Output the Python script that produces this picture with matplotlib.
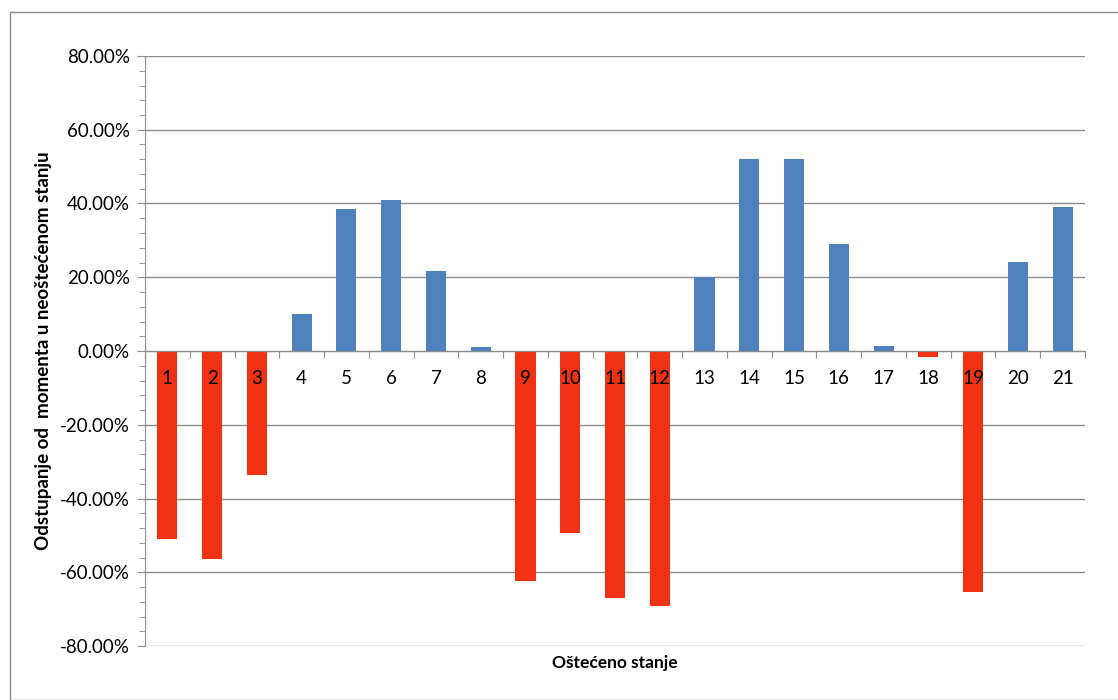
import numpy as np
import matplotlib.pyplot as plt
from matplotlib.patches import Rectangle
from matplotlib.ticker import FuncFormatter, MultipleLocator
from matplotlib.transforms import ScaledTranslation

plt.rcParams['font.family'] = ['Lato', 'DejaVu Sans']

# damaged states and deviation of moment (fraction)
states = [str(i) for i in range(1, 22)]
deviation = [-0.510, -0.564, -0.336, 0.100, 0.385, 0.410, 0.217, 0.011,
             -0.624, -0.494, -0.670, -0.692, 0.201, 0.521, 0.521, 0.290,
             0.014, -0.016, -0.654, 0.241, 0.391]

blue = '#4F81BD'
red = '#F03214'
grid_col = '#8C8C8C'

fig = plt.figure(figsize=(11.18, 7.0), dpi=100)
fig.patches.append(Rectangle((10 / 1118, 0.0), 1.2, 1 - 12 / 700,
                             transform=fig.transFigure, fill=False,
                             edgecolor='#8C8C8C', linewidth=1.0))

ax = fig.add_axes([145 / 1118, 54 / 700, 940 / 1118, 590 / 700])

x = np.arange(len(states))
colors = [blue if v >= 0 else red for v in deviation]
ax.bar(x, deviation, width=0.45, color=colors, zorder=3)

ax.set_xlim(-0.5, len(states) - 0.5)
ax.set_ylim(-0.8, 0.8)

ax.yaxis.set_major_locator(MultipleLocator(0.2))
ax.yaxis.set_minor_locator(MultipleLocator(0.04))
ax.yaxis.set_major_formatter(FuncFormatter(lambda v, p: f'{v * 100:.2f}%'))
ax.grid(axis='y', which='major', color=grid_col, linewidth=1.0, zorder=0)
ax.tick_params(axis='y', which='both', direction='out', color=grid_col,
               labelsize=13.5, labelcolor='black', pad=5)
ax.tick_params(axis='y', which='major', length=6)
ax.tick_params(axis='y', which='minor', length=4)

ax.spines['bottom'].set_position(('data', 0))
ax.spines['bottom'].set_color(grid_col)
ax.spines['bottom'].set_zorder(4)
ax.spines['left'].set_color(grid_col)
ax.spines['top'].set_visible(False)
ax.spines['right'].set_visible(False)

# category boundaries carry the tick marks; labels drawn on top of the bars
ax.set_xticks(np.arange(len(states) + 1) - 0.5)
ax.set_xticklabels([])
ax.tick_params(axis='x', length=5, direction='out', color=grid_col)
shift = ax.transData + ScaledTranslation(0, -0.27, fig.dpi_scale_trans)
for xi, s in zip(x, states):
    ax.text(xi, 0, s, transform=shift, ha='center', va='center',
            fontsize=13.5, zorder=6)

ax.set_ylabel('Odstupanje od  momenta u neoštećenom stanju',
              fontsize=13.5, fontweight='bold')
ax.yaxis.set_label_coords(-0.099, 0.5)
fig.text(615 / 1118, 1 - 663 / 700, 'Oštećeno stanje', ha='center', va='center',
         fontsize=12.5, fontweight='bold')

fig.savefig('out.png', dpi=100)
